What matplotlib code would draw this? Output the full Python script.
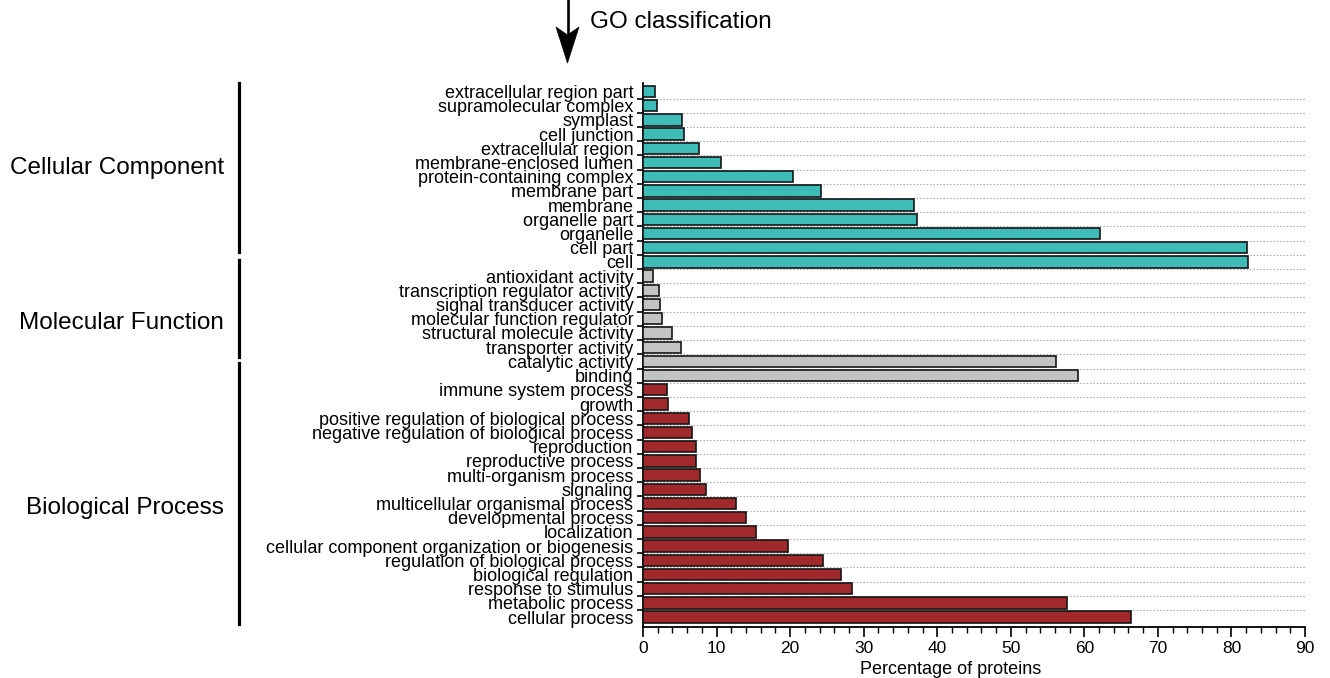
import matplotlib
matplotlib.use('Agg')
import matplotlib.pyplot as plt
from matplotlib.patches import Polygon
from matplotlib.lines import Line2D
from matplotlib.ticker import MultipleLocator

plt.rcParams['font.family'] = ['Liberation Sans', 'DejaVu Sans']

# categories listed top to bottom
cc_terms = ['extracellular region part', 'supramolecular complex', 'symplast', 'cell junction',
            'extracellular region', 'membrane-enclosed lumen', 'protein-containing complex',
            'membrane part', 'membrane', 'organelle part', 'organelle', 'cell part', 'cell']
cc_values = [1.6, 1.9, 5.3, 5.6, 7.6, 10.6, 20.4, 24.2, 36.9, 37.3, 62.1, 82.1, 82.2]

mf_terms = ['antioxidant activity', 'transcription regulator activity', 'signal transducer activity',
            'molecular function regulator', 'structural molecule activity', 'transporter activity',
            'catalytic activity', 'binding']
mf_values = [1.4, 2.2, 2.3, 2.6, 3.9, 5.1, 56.1, 59.2]

bp_terms = ['immune system process', 'growth', 'positive regulation of biological process',
            'negative regulation of biological process', 'reproduction', 'reproductive process',
            'multi-organism process', 'signaling', 'multicellular organismal process',
            'developmental process', 'localization', 'cellular component organization or biogenesis',
            'regulation of biological process', 'biological regulation', 'response to stimulus',
            'metabolic process', 'cellular process']
bp_values = [3.3, 3.4, 6.3, 6.7, 7.2, 7.2, 7.7, 8.6, 12.7, 14.0, 15.3, 19.7, 24.4, 26.9, 28.4, 57.6, 66.3]

groups = ['Cellular Component', 'Molecular Function', 'Biological Process']
group_colors = ['#3dbcb8', '#c3c3c3', '#a2292b']

W, H = 1330, 678
fig = plt.figure(figsize=(W / 100, H / 100), dpi=100)
ax = fig.add_axes([0.4835, 0.0752, 0.4977, 0.8028])

labels = cc_terms + mf_terms + bp_terms
values = cc_values + mf_values + bp_values
colors = ([group_colors[0]] * len(cc_terms) + [group_colors[1]] * len(mf_terms)
          + [group_colors[2]] * len(bp_terms))
ypos = list(range(len(labels)))

ax.barh(ypos, values, height=0.8, color=colors, edgecolor='#151515', linewidth=1.2, zorder=3)

ax.set_xlim(0, 90)
ax.set_ylim(len(labels) - 0.3, -0.62)

# boundaries between bars carry ticks and dotted grid, centres carry the labels
ax.set_yticks([i + 0.5 for i in range(len(labels) - 1)])
ax.set_yticklabels([])
ax.set_yticks(ypos, minor=True)
ax.set_yticklabels(labels, minor=True, fontsize=13)
ax.tick_params(axis='y', which='major', length=4, width=1.2, direction='out')
ax.tick_params(axis='y', which='minor', length=0, pad=7)
ax.yaxis.grid(True, which='major', linestyle=(0, (1.2, 1.8)), color='#a0a0a0', linewidth=0.8, zorder=0)

ax.xaxis.set_major_locator(MultipleLocator(10))
ax.xaxis.set_minor_locator(MultipleLocator(2))
ax.tick_params(axis='x', which='major', length=7, width=1.2, labelsize=12.5, pad=3)
ax.tick_params(axis='x', which='minor', length=4.5, width=1.0)
ax.set_xlabel('Percentage of proteins', fontsize=13)
ax.xaxis.set_label_coords(0.465, -0.063)

for s in ['top', 'right']:
    ax.spines[s].set_visible(False)
ax.spines['left'].set_linewidth(1.3)
ax.spines['bottom'].set_linewidth(1.3)

# group brackets and names
bracket_x = 239 / W
spans = [(83, 252), (260, 357), (363, 624)]
name_y = [168, 323, 508]
for g, (top, bot), yc in zip(groups, spans, name_y):
    fig.add_artist(Line2D([bracket_x, bracket_x], [1 - top / H, 1 - bot / H],
                          transform=fig.transFigure, color='black', linewidth=2.3))
    fig.text(224 / W, 1 - yc / H, g, ha='right', va='center', fontsize=17.5)

# arrow (stealth head) and title
ax_x = 567.5
fig.add_artist(Line2D([ax_x / W, ax_x / W], [1.0, 1 - 34 / H], transform=fig.transFigure,
                      color='black', linewidth=1.9))
head = [(ax_x, 63), (ax_x - 11.5, 27), (ax_x, 35), (ax_x + 11.5, 27)]
fig.add_artist(Polygon([(px / W, 1 - py / H) for px, py in head], closed=True,
                       transform=fig.transFigure, facecolor='black', edgecolor='black', linewidth=0.5))
fig.text(590 / W, 1 - 22 / H, 'GO classification', ha='left', va='center', fontsize=17.5)

fig.savefig('out.png', dpi=100)
